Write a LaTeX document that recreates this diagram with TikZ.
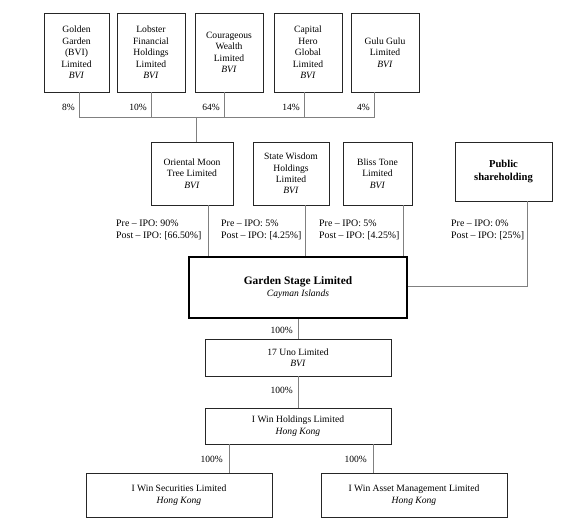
\documentclass[tikz,border=0pt]{standalone}
\usepackage{fontspec}
\setmainfont{Liberation Serif}
\begin{document}
\begin{tikzpicture}[x=1pt,y=-1pt,
  box/.style={draw=black!85,line width=0.6pt,inner sep=1pt,align=center,font=\fontsize{9.6}{11.4}\selectfont},
  conn/.style={draw=black!50,line width=0.6pt},
  pct/.style={inner sep=1pt,font=\fontsize{9.5}{11}\selectfont,anchor=east},
  ipo/.style={inner sep=0pt,align=left,font=\fontsize{9.9}{12.2}\selectfont,anchor=north west}]
\useasboundingbox (0,0) rectangle (588,529);
% top row
\node[box,minimum width=65,minimum height=79] (gg) at (76.5,52.5) {Golden\\Garden\\(BVI)\\Limited\\\textit{BVI}};
\node[box,minimum width=68,minimum height=79] (lob) at (151,52.5) {Lobster\\Financial\\Holdings\\Limited\\\textit{BVI}};
\node[box,minimum width=68,minimum height=79] (cour) at (229,52.5) {Courageous\\Wealth\\Limited\\\textit{BVI}};
\node[box,minimum width=68,minimum height=79] (cap) at (308,52.5) {Capital\\Hero\\Global\\Limited\\\textit{BVI}};
\node[box,minimum width=68,minimum height=79] (gulu) at (385,52.5) {Gulu Gulu\\Limited\\\textit{BVI}};
% bus
\coordinate (b1) at (79,117);
\coordinate (b2) at (151,117);
\coordinate (b3) at (224,117);
\coordinate (b4) at (304,117);
\coordinate (b5) at (374,117);
\coordinate (bm) at (196,117);
\draw[conn] (gg.south -| b1) -- (b1) -- (b5) -- (gulu.south -| b5);
\draw[conn] (lob.south -| b2) -- (b2);
\draw[conn] (cour.south -| b3) -- (b3);
\draw[conn] (cap.south -| b4) -- (b4);
\node[pct] (p1) at (76,107) {8\%};
\node[pct] (p2) at (148,107) {10\%};
\node[pct] (p3) at (221,107) {64\%};
\node[pct] (p4) at (301,107) {14\%};
\node[pct] (p5) at (371,107) {4\%};
% second row
\node[box,minimum width=82,minimum height=63] (om) at (192,173.5) {Oriental Moon\\Tree Limited\\\textit{BVI}};
\node[box,minimum width=76,minimum height=63] (sw) at (291,173.5) {State Wisdom\\Holdings\\Limited\\\textit{BVI}};
\node[box,minimum width=69,minimum height=63] (bt) at (377.5,173.5) {Bliss Tone\\Limited\\\textit{BVI}};
\node[box,minimum width=97,minimum height=59,font=\fontsize{10.6}{13}\selectfont\bfseries] (pub) at (503.5,171.5) {Public\\shareholding};
\draw[conn] (bm) -- (bm |- om.north);
% Garden Stage
\node[box,draw=black,line width=1.6pt,minimum width=218,minimum height=61] (gs) at (298,287.5) {\fontsize{11.4}{14}\selectfont\textbf{Garden Stage Limited}\\\textit{Cayman Islands}};
\coordinate (x1) at (208,0);
\coordinate (x2) at (305,0);
\coordinate (x3) at (403,0);
\coordinate (x4) at (527,286);
\draw[conn] (om.south -| x1) -- (gs.north -| x1);
\draw[conn] (sw.south -| x2) -- (gs.north -| x2);
\draw[conn] (bt.south -| x3) -- (gs.north -| x3);
\draw[conn] (pub.south -| x4) -- (x4) -- (x4 -| gs.east);
\node[ipo] (i1) at (116,220) {Pre -- IPO: 90\%\\Post -- IPO: [66.50\%]};
\node[ipo] (i2) at (221,220) {Pre -- IPO: 5\%\\Post -- IPO: [4.25\%]};
\node[ipo] (i3) at (319,220) {Pre -- IPO: 5\%\\Post -- IPO: [4.25\%]};
\node[ipo] (i4) at (451,220) {Pre -- IPO: 0\%\\Post -- IPO: [25\%]};
% lower chain
\node[box,minimum width=186,minimum height=37] (uno) at (298,357.5) {17 Uno Limited\\\textit{BVI}};
\node[box,minimum width=186,minimum height=36] (hold) at (298,426) {I Win Holdings Limited\\\textit{Hong Kong}};
\node[box,minimum width=186,minimum height=44] (sec) at (179,495) {I Win Securities Limited\\\textit{Hong Kong}};
\node[box,minimum width=186,minimum height=44] (am) at (414,495) {I Win Asset Management Limited\\\textit{Hong Kong}};
\draw[conn] (gs) -- (uno);
\draw[conn] (uno) -- (hold);
\coordinate (y1) at (229,0);
\coordinate (y2) at (373,0);
\draw[conn] (hold.south -| y1) -- (sec.north -| y1);
\draw[conn] (hold.south -| y2) -- (am.north -| y2);
\node[pct] (q1) at (294,330) {100\%};
\node[pct] (q2) at (294,390) {100\%};
\node[pct] (q3) at (224,459) {100\%};
\node[pct] (q4) at (368,459) {100\%};
\end{tikzpicture}
\end{document}
